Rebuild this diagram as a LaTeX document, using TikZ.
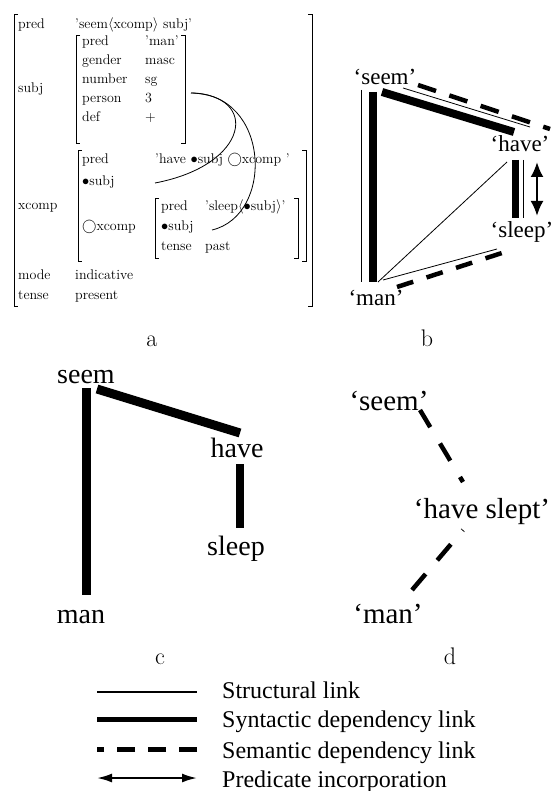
\documentclass[tikz,border=0pt]{standalone}
\usepackage{fontspec}
\usetikzlibrary{arrows.meta}
\newfontfamily\tms{Liberation Serif}
\begin{document}
\begin{tikzpicture}[x=1pt,y=-1pt,
  avm/.style={anchor=base west,inner sep=0pt,font=\fontsize{14}{16}\selectfont\addfontfeature{LetterSpace=3}},
  brk/.style={line width=0.9pt},
  lbl/.style={anchor=base,inner sep=0pt,font=\fontsize{24}{28}\selectfont},
  wb/.style={anchor=base,inner sep=0pt,font=\tms\fontsize{23}{27}\selectfont},
  wc/.style={anchor=base,inner sep=0pt,font=\tms\fontsize{28}{32}\selectfont},
  wd/.style={anchor=base,inner sep=0pt,font=\tms\fontsize{29}{33}\selectfont},
  leg/.style={anchor=base west,inner sep=0pt,font=\tms\fontsize{24}{28}\selectfont},
  thin/.style={line width=0.8pt},
  thick/.style={line width=8pt},
  sem/.style={line width=4.5pt},
  dbl/.style={line width=2.4pt,{Latex[length=15pt,width=13pt]}-{Latex[length=15pt,width=13pt]}},
]
\useasboundingbox (0,0) rectangle (553,791);

% ---------------- panel a: AVM ----------------
\draw[brk] (18,14) -- (14,14) -- (14,306) -- (18,306);
\draw[brk] (308,14) -- (312,14) -- (312,306) -- (308,306);
\draw[brk] (80,35) -- (76,35) -- (76,143) -- (80,143);
\draw[brk] (181,35) -- (185,35) -- (185,143) -- (181,143);
\draw[brk] (82,150) -- (78,150) -- (78,261) -- (82,261);
\draw[brk] (302,150) -- (306,150) -- (306,261) -- (302,261);
\draw[brk] (159,198) -- (155,198) -- (155,258) -- (159,258);
\draw[brk] (294,198) -- (298,198) -- (298,258) -- (294,258);

\node[avm] (pl) at (18,29) {pred};
\node[avm] (pv) at (75,29) {'seem$\langle$xcomp$\rangle$ subj'};
\node[avm] (sl) at (18,93) {subj};
\node[avm] (s1) at (82,46) {pred};
\node[avm] (s1v) at (145,46) {'man'};
\node[avm] (s2) at (82,65) {gender};
\node[avm] (s2v) at (145,65) {masc};
\node[avm] (s3) at (82,84) {number};
\node[avm] (s3v) at (145,84) {sg};
\node[avm] (s4) at (82,103) {person};
\node[avm] (s4v) at (145,103) {3};
\node[avm] (s5) at (82,122) {def};
\node[avm] (s5v) at (145,122) {+};
\node[avm] (xl) at (18,210) {xcomp};
\node[avm] (x1) at (82,164) {pred};
\node[avm] (x1v) at (155,164) {'have $\bullet$subj $\bigcirc$xcomp '};
\node[avm] (x2) at (82,186) {$\bullet$subj};
\node[avm] (x3) at (82,231) {$\bigcirc$xcomp};
\node[avm] (y1) at (161,211) {pred};
\node[avm] (y1v) at (205,211) {'sleep$\langle\bullet$subj$\rangle$'};
\node[avm] (y2) at (161,231) {$\bullet$subj};
\node[avm] (y3) at (161,251) {tense};
\node[avm] (y3v) at (205,251) {past};
\node[avm] (ml) at (18,279) {mode};
\node[avm] (mv) at (75,279) {indicative};
\node[avm] (tl) at (18,299) {tense};
\node[avm] (tv) at (75,299) {present};

\coordinate (sg) at (191,93);
\coordinate (hs) at (155,183);
\coordinate (ss) at (212,230);
\draw[thin] (sg) .. controls (260,95) and (250,165) .. (hs);
\draw[thin] (sg) .. controls (270,93) and (275,215) .. (ss);

\node[lbl] (la) at (152,346) {a};

% ---------------- panel b ----------------
\node[wb] (bseem) at (385,85) {‘seem’};
\node[wb] (bhave) at (520,152) {‘have’};
\node[wb] (bsleep) at (522,238) {‘sleep’};
\node[wb] (bman) at (376,305) {‘man’};

\coordinate (b1a) at (361,90);  \coordinate (b1b) at (361,282);
\coordinate (b2a) at (373,92);  \coordinate (b2b) at (373,282);
\coordinate (b3a) at (382,92);  \coordinate (b3b) at (514,132);
\coordinate (b4a) at (403,88);  \coordinate (b4b) at (530,127);
\coordinate (b5a) at (418,85);  \coordinate (b5b) at (550,129);
\coordinate (b6a) at (515,160); \coordinate (b6b) at (515,218);
\coordinate (b7a) at (523,160); \coordinate (b7b) at (523,218);
\coordinate (b8a) at (537,162); \coordinate (b8b) at (537,216);
\coordinate (b9a) at (378,282); \coordinate (b9b) at (507,162);
\coordinate (b10a) at (383,280); \coordinate (b10b) at (497,249);
\coordinate (b11a) at (397,287); \coordinate (b11b) at (505,252);

\draw[thin] (b1a) -- (b1b);
\draw[thick] (b2a) -- (b2b);
\draw[thick] (b3a) -- (b3b);
\draw[thin] (b4a) -- (b4b);
\draw[sem,dash pattern=on 19pt off 14pt] (b5a) -- (b5b);
\draw[line width=7pt] (b6a) -- (b6b);
\draw[thin] (b7a) -- (b7b);
\draw[dbl] (b8a) -- (b8b);
\draw[thin] (b9a) -- (b9b);
\draw[thin] (b10a) -- (b10b);
\draw[sem,dash pattern=on 17pt off 14pt] (b11a) -- (b11b);

\node[lbl] (lb) at (427,346) {b};

% ---------------- panel c ----------------
\node[wc] (cseem) at (86,383) {seem};
\node[wc] (chave) at (237,457) {have};
\node[wc] (csleep) at (236,555) {sleep};
\node[wc] (cman) at (81,623) {man};
\coordinate (c1a) at (86,388);  \coordinate (c1b) at (86,595);
\coordinate (c2a) at (97,389);  \coordinate (c2b) at (240,433);
\coordinate (c3a) at (240,464); \coordinate (c3b) at (240,528);
\draw[line width=9pt] (c1a) -- (c1b);
\draw[line width=9pt] (c2a) -- (c2b);
\draw[line width=8pt] (c3a) -- (c3b);

\node[lbl] (lc) at (160,664) {c};

% ---------------- panel d ----------------
\node[wd] (dseem) at (389,410) {‘seem’};
\node[wd] (dhave) at (482,518) {‘have slept’};
\node[wd] (dman) at (388,623) {‘man’};
\coordinate (d1a) at (420,410); \coordinate (d1b) at (463,482);
\coordinate (d2a) at (412,590); \coordinate (d2b) at (463,530);
\draw[sem,dash pattern=on 20pt off 19pt] (d1a) -- (d1b);
\draw[sem,dash pattern=on 21pt off 18pt] (d2a) -- (d2b);

\node[lbl] (ld) at (450,664) {d};

% ---------------- legend ----------------
\coordinate (l1a) at (97,692);  \coordinate (l1b) at (197,692);
\coordinate (l2a) at (97,719);  \coordinate (l2b) at (197,719);
\coordinate (l3a) at (97,749);  \coordinate (l3b) at (197,749);
\coordinate (l4a) at (97,778);  \coordinate (l4b) at (197,778);
\draw[line width=1.2pt] (l1a) -- (l1b);
\draw[line width=5pt] (l2a) -- (l2b);
\draw[line width=5pt,dash pattern=on 18pt off 13pt] (l3b) -- (l3a);
\draw[line width=2pt,{Latex[length=15pt,width=9pt]}-{Latex[length=15pt,width=9pt]}] (l4a) -- (l4b);
\node[leg] (t1) at (222,698) {Structural link};
\node[leg] (t2) at (222,727) {Syntactic dependency link};
\node[leg] (t3) at (222,758) {Semantic dependency link};
\node[leg] (t4) at (222,787) {Predicate incorporation};
\end{tikzpicture}
\end{document}
